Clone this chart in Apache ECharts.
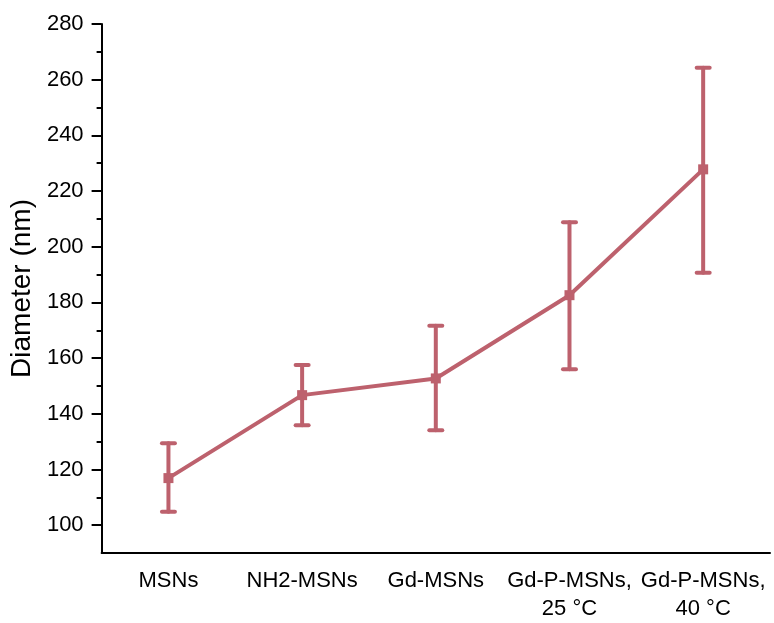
<!DOCTYPE html>
<html>
<head>
<meta charset="utf-8">
<script src="https://cdn.jsdelivr.net/npm/echarts@6/dist/echarts.min.js"></script>
<style>
  html, body { margin: 0; padding: 0; background: #fff; }
  #chart { width: 774px; height: 623px; }
</style>
</head>
<body>
<div id="chart"></div>
<script>
// data
var categories = ['MSNs', 'NH2-MSNs', 'Gd-MSNs', 'Gd-P-MSNs,\n25 °C', 'Gd-P-MSNs,\n40 °C'];
var diameter = [116.9, 146.7, 152.7, 182.6, 227.8];
var errLow = [104.8, 135.9, 134.1, 156.0, 190.7];
var errHigh = [129.4, 157.5, 171.6, 208.8, 264.3];
var yMajorTicks = [100, 120, 140, 160, 180, 200, 220, 240, 260, 280];
var yMinorTicks = [110, 130, 150, 170, 190, 210, 230, 250, 270];

var lineColor = '#BD616D';
var font = "'Liberation Sans', Arial, sans-serif";

var errData = [];
for (var i = 0; i < categories.length; i++) {
    errData.push([i, errLow[i], errHigh[i]]);
}

var chart = echarts.init(document.getElementById('chart'));

var option = {
    animation: false,
    backgroundColor: '#fff',
    grid: { left: 100, right: 4, top: 24, bottom: 69 },
    xAxis: [
        {
            type: 'category',
            data: categories,
            boundaryGap: true,
            axisLine: { lineStyle: { color: '#000', width: 2 } },
            axisTick: { alignWithLabel: true, length: 10, lineStyle: { color: '#000', width: 2 } },
            axisLabel: {
                interval: 0, margin: 14, color: '#000',
                fontFamily: font, fontSize: 22, lineHeight: 28
            },
            splitLine: { show: false }
        },
        {
            // short ticks on category boundaries
            type: 'category',
            data: categories,
            position: 'bottom',
            boundaryGap: true,
            axisLine: { show: false },
            axisTick: { length: 5, lineStyle: { color: '#000', width: 2 } },
            axisLabel: { show: false },
            splitLine: { show: false }
        }
    ],
    yAxis: [
        {
            type: 'value',
            min: 90,
            max: 280,
            name: 'Diameter (nm)',
            nameLocation: 'middle',
            nameGap: 60,
            nameTextStyle: { color: '#000', fontFamily: font, fontSize: 28 },
            axisLine: { show: true, lineStyle: { color: '#000', width: 2 } },
            axisTick: { show: true, length: 10, customValues: yMajorTicks, lineStyle: { color: '#000', width: 2 } },
            axisLabel: { customValues: yMajorTicks, margin: 18, color: '#000', fontFamily: font, fontSize: 22 },
            splitLine: { show: false }
        },
        {
            type: 'value',
            min: 90,
            max: 280,
            position: 'left',
            axisLine: { show: false },
            axisTick: { show: true, length: 5, customValues: yMinorTicks, lineStyle: { color: '#000', width: 2 } },
            axisLabel: { show: false },
            splitLine: { show: false }
        }
    ],
    series: [
        {
            type: 'line',
            data: diameter,
            symbol: 'rect',
            symbolSize: 10,
            lineStyle: { color: lineColor, width: 4 },
            itemStyle: { color: lineColor },
            z: 3
        },
        {
            type: 'custom',
            data: errData,
            z: 2,
            renderItem: function (params, api) {
                var x = api.value(0);
                var lo = api.coord([x, api.value(1)]);
                var hi = api.coord([x, api.value(2)]);
                var cap = 6.5;
                var style = { stroke: lineColor, lineWidth: 4, lineCap: 'round' };
                return {
                    type: 'group',
                    children: [
                        { type: 'line', shape: { x1: lo[0], y1: lo[1], x2: hi[0], y2: hi[1] }, style: style },
                        { type: 'line', shape: { x1: hi[0] - cap, y1: hi[1], x2: hi[0] + cap, y2: hi[1] }, style: style },
                        { type: 'line', shape: { x1: lo[0] - cap, y1: lo[1], x2: lo[0] + cap, y2: lo[1] }, style: style }
                    ]
                };
            }
        }
    ]
};

chart.setOption(option);
</script>
</body>
</html>
